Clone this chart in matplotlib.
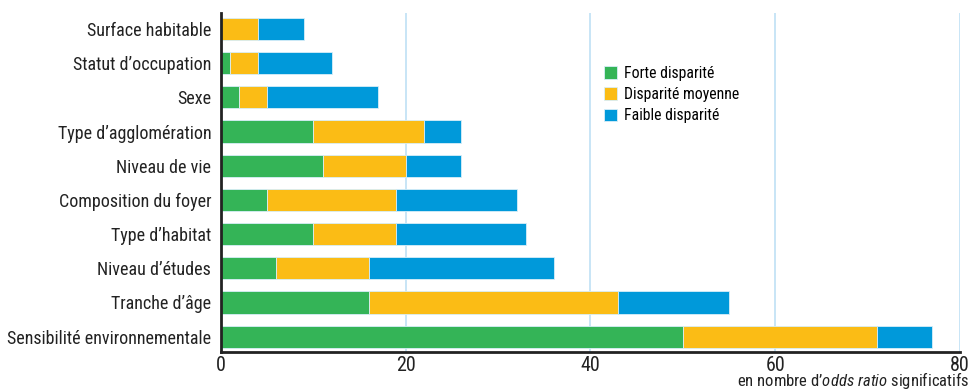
import numpy as np
import matplotlib.pyplot as plt

plt.rcParams['font.family'] = ['Roboto Condensed', 'DejaVu Sans']
plt.rcParams['mathtext.fontset'] = 'custom'
plt.rcParams['mathtext.rm'] = 'Roboto Condensed'
plt.rcParams['mathtext.it'] = 'Roboto Condensed:italic'

categories = ["Surface habitable", "Statut d’occupation", "Sexe",
              "Type d’agglomération", "Niveau de vie", "Composition du foyer",
              "Type d’habitat", "Niveau d’études", "Tranche d’âge",
              "Sensibilité environnementale"]
forte = [0, 1, 2, 10, 11, 5, 10, 6, 16, 50]
moyenne = [4, 3, 3, 12, 9, 14, 9, 10, 27, 21]
faible = [5, 8, 12, 4, 6, 13, 14, 20, 12, 6]
series_names = ["Forte disparité", "Disparité moyenne", "Faible disparité"]
colors = ["#34b457", "#fbbc15", "#0099da"]

fig = plt.figure(figsize=(9.7, 3.9), dpi=100)
ax = fig.add_axes([0.2278, 0.0974, 0.7619, 0.8696])

y = np.arange(len(categories))
left = np.zeros(len(categories))
for vals, name, c in zip([forte, moyenne, faible], series_names, colors):
    ax.barh(y, vals, left=left, height=0.65, color=c, label=name,
            edgecolor='#d8eef8', linewidth=0.6, zorder=3)
    left += np.array(vals)

ax.set_yticks(y)
ax.set_yticklabels(categories, fontsize=13, color='#222222')
ax.set_ylim(9.45, -0.47)
ax.set_xlim(0, 80)
ax.set_xticks([0, 20, 40, 60, 80])
ax.tick_params(axis='x', labelsize=14.5, length=0, pad=3, colors='#222222')
ax.tick_params(axis='y', length=0, pad=7)
ax.grid(axis='x', color='#bfe0f5', linewidth=1.2, zorder=0)
for s in ['top', 'right']:
    ax.spines[s].set_visible(False)
ax.spines['left'].set_linewidth(2)
ax.spines['bottom'].set_linewidth(2)
ax.spines['left'].set_color('#222222')
ax.spines['bottom'].set_color('#222222')
ax.spines['left'].set_zorder(4)

leg = ax.legend(loc='upper left', bbox_to_anchor=(0.497, 0.89), frameon=True,
                fontsize=11.3, handlelength=0.85, handleheight=0.85,
                handletextpad=0.4, labelspacing=0.4, borderpad=0.5)
leg.get_frame().set_edgecolor('white')
leg.get_frame().set_facecolor('white')
leg.get_frame().set_alpha(1)
leg.get_frame().set_boxstyle('square', pad=0)

fig.text(0.999, -0.002, r"en nombre d’$\it{odds\ ratio}$ significatifs",
         ha='right', va='bottom', fontsize=12, color='#222222')

fig.savefig('out.png', dpi=100)
